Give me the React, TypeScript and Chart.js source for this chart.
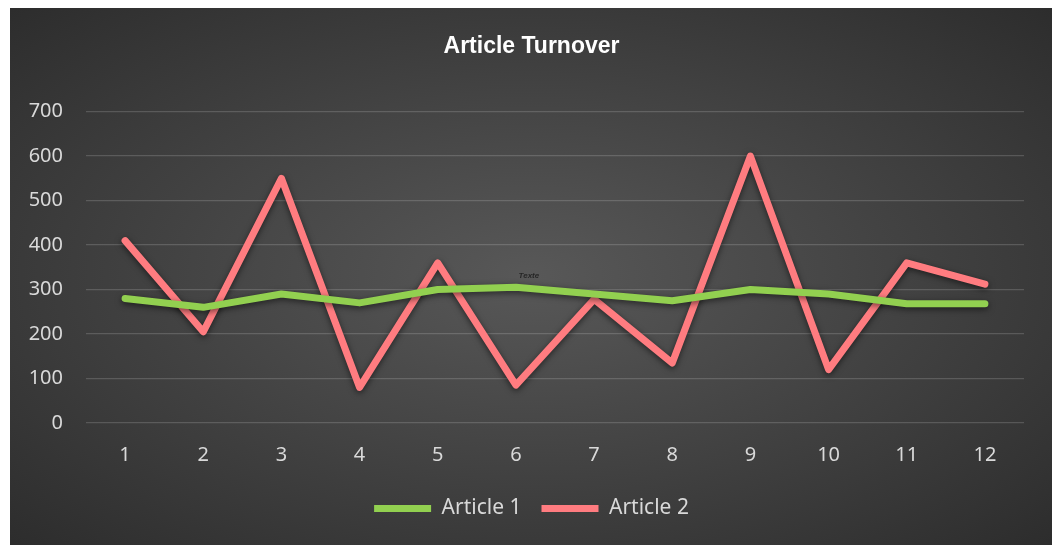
import { useEffect, useRef } from "react"
import { Chart, registerables } from "chart.js"

Chart.register(...registerables)

const months = ["1", "2", "3", "4", "5", "6", "7", "8", "9", "10", "11", "12"]
const article1 = [280, 260, 290, 270, 300, 305, 290, 275, 300, 290, 268, 268]
const article2 = [410, 205, 550, 80, 360, 85, 278, 135, 600, 120, 360, 312]

const textColor = "#d9d9d9"

// dark radial backdrop behind the whole chart
const backdrop = {
  id: "backdrop",
  beforeDraw(chart: Chart) {
    const { ctx, width, height } = chart
    ctx.save()
    ctx.translate(width / 2, height / 2)
    ctx.scale(width / height, 1)
    const r = height * 0.75
    const g = ctx.createRadialGradient(0, 0, 0, 0, 0, r)
    g.addColorStop(0, "#585858")
    g.addColorStop(1, "#2a2a2a")
    ctx.fillStyle = g
    ctx.fillRect(-r * 2, -r * 2, r * 4, r * 4)
    ctx.restore()
  },
}

// soft drop shadow under the lines
const lineShadow = {
  id: "lineShadow",
  beforeDatasetsDraw(chart: Chart) {
    const ctx = chart.ctx
    ctx.save()
    ctx.shadowColor = "rgba(0, 0, 0, 0.55)"
    ctx.shadowBlur = 6
    ctx.shadowOffsetY = 2
  },
  afterDatasetsDraw(chart: Chart) {
    chart.ctx.restore()
  },
}

// small placeholder text left in the source chart
const texte = {
  id: "texte",
  afterDraw(chart: Chart) {
    const { ctx, scales } = chart
    const x = scales.x.getPixelForValue(5)
    const y = scales.y.getPixelForValue(330)
    ctx.save()
    ctx.font = "italic bold 8px 'Liberation Sans'"
    ctx.fillStyle = "#262626"
    ctx.textAlign = "center"
    ctx.textBaseline = "middle"
    ctx.fillText("Texte", x + 13, y)
    ctx.restore()
  },
}

export default function App() {
  const chartRef = useRef<HTMLCanvasElement>(null)
  const chartInstance = useRef<Chart | null>(null)

  useEffect(() => {
    if (!chartRef.current) return
    if (chartInstance.current) chartInstance.current.destroy()

    const ctx = chartRef.current.getContext("2d")
    if (!ctx) return

    chartInstance.current = new Chart(ctx, {
      type: "line",
      data: {
        labels: months,
        datasets: [
          {
            label: "Article 1",
            data: article1,
            borderColor: "#92d050",
            backgroundColor: "#92d050",
            borderWidth: 7,
            borderCapStyle: "round",
          },
          {
            label: "Article 2",
            data: article2,
            borderColor: "#ff7c80",
            backgroundColor: "#ff7c80",
            borderWidth: 7,
            borderCapStyle: "round",
          },
        ],
      },
      options: {
        animation: false,
        responsive: true,
        maintainAspectRatio: false,
        layout: { padding: { left: 0, right: 0, top: 0, bottom: 16 } },
        elements: {
          point: { radius: 0, hoverRadius: 0 },
          line: {
            tension: 0,
            borderJoinStyle: "round",
          },
        },
        scales: {
          x: {
            offset: true,
            afterFit: (scale) => {
              scale.height -= 9
            },
            grid: { display: false, drawTicks: false },
            border: { display: false },
            ticks: {
              color: textColor,
              padding: 20,
              font: { family: "'Noto Sans'", size: 20 },
            },
          },
          y: {
            min: 0,
            max: 700,
            afterFit: (scale) => {
              scale.width = 76
            },
            grid: {
              color: "rgba(255, 255, 255, 0.16)",
              lineWidth: 1.3,
              drawTicks: false,
            },
            border: { display: false },
            ticks: {
              stepSize: 100,
              color: textColor,
              padding: 23,
              font: { family: "'Noto Sans'", size: 20 },
            },
          },
          // empty right-hand spacer so the legend stays centred on the canvas
          spacer: {
            type: "linear",
            position: "right",
            afterFit: (scale) => {
              scale.width = 29
            },
            grid: { display: false, drawTicks: false },
            border: { display: false },
            ticks: { display: false },
          },
        },
        plugins: {
          title: {
            display: true,
            text: "Article Turnover",
            color: "#ffffff",
            font: { family: "'Liberation Sans'", size: 23, weight: "bold" },
            padding: { top: 27, bottom: 51 },
          },
          legend: {
            position: "bottom",
            labels: {
              color: textColor,
              font: { family: "'Noto Sans'", size: 21 },
              usePointStyle: true,
              pointStyle: "line",
              pointStyleWidth: 57,
              padding: 20,
            },
          },
          tooltip: { enabled: false },
        },
      },
      plugins: [backdrop, lineShadow, texte],
    })

    return () => {
      if (chartInstance.current) {
        chartInstance.current.destroy()
        chartInstance.current = null
      }
    }
  }, [])

  return (
    <div style={{ width: 1043, height: 539, marginLeft: 2, marginTop: -2, position: "relative" }}>
      <canvas ref={chartRef} />
    </div>
  )
}
